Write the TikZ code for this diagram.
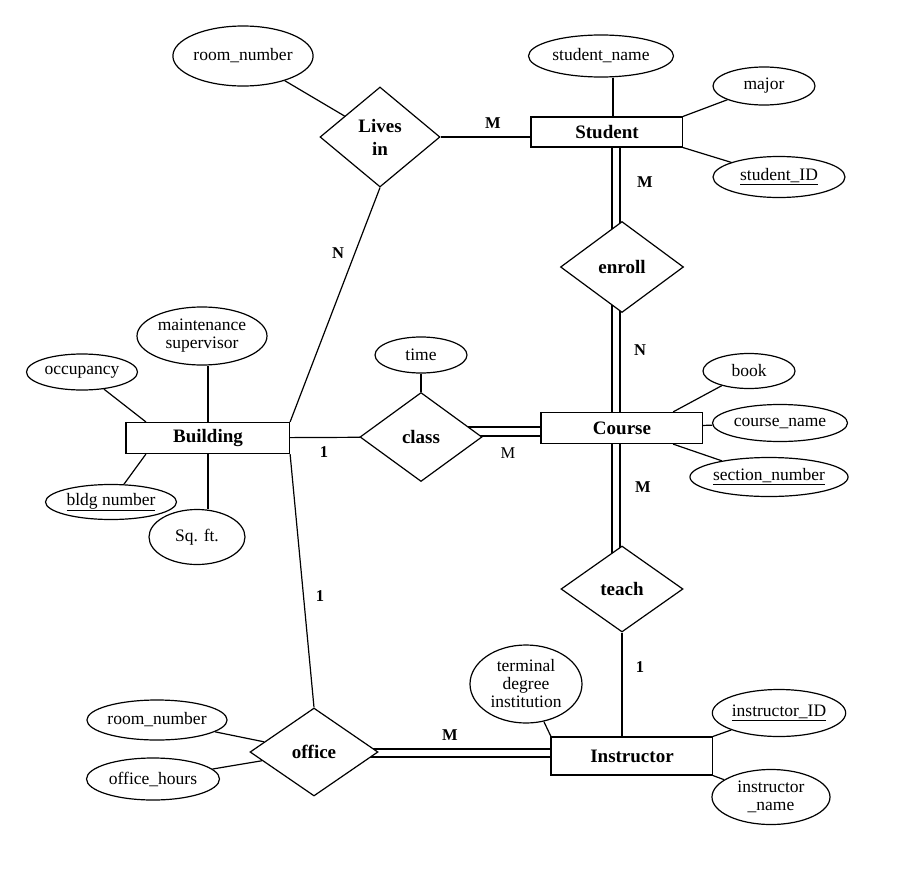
\documentclass[tikz,border=0pt]{standalone}
\usepackage{fontspec}
\setmainfont{Liberation Serif}
\usetikzlibrary{shapes.geometric}
\pgfdeclarelayer{bg}
\pgfsetlayers{bg,main}
\begin{document}
\begin{tikzpicture}[x=1pt,y=-1pt,
  attr/.style={ellipse, draw, fill=white, line width=1.2pt, inner sep=0pt, font=\fontsize{17.5}{18}\selectfont, align=center},
  ent/.style={rectangle, draw, fill=white, line width=1.2pt, inner sep=0pt, font=\bfseries\fontsize{19}{20}\selectfont},
  rel/.style={diamond, draw, fill=white, line width=1.2pt, inner sep=0pt, font=\bfseries\fontsize{19}{23}\selectfont, align=center},
  card/.style={font=\bfseries\fontsize{16.5}{18}\selectfont, inner sep=0pt},
  cardr/.style={font=\fontsize{16.5}{18}\selectfont, inner sep=0pt},
  conn/.style={line width=1.2pt},
  leftedge/.style={line width=2pt}]
\useasboundingbox (0,0) rectangle (918,878);

% entities
\node[ent, minimum width=151pt, minimum height=30pt] (student) at (607,132) {Student};
\node[ent, minimum width=161pt, minimum height=31pt] (course) at (622,428) {Course};
\node[ent, minimum width=163pt, minimum height=31pt] (building) at (208,438) {Building};
\node[ent, minimum width=161pt, minimum height=38pt] (instructor) at (632,756) {Instructor};
\foreach \e in {student,course,building,instructor}
  \draw[leftedge] (\e.north west) -- (\e.south west);

% relationships
\node[rel, minimum width=120pt, minimum height=100pt] (livesin) at (380,137) {Lives\\in};
\node[rel, minimum width=123pt, minimum height=91pt] (enroll) at (622,267) {enroll};
\node[rel, minimum width=122pt, minimum height=89pt] (class) at (421,437) {class};
\node[rel, minimum width=122pt, minimum height=86pt] (teach) at (622,589) {teach};
\node[rel, minimum width=128pt, minimum height=88pt] (office) at (314,752) {office};

% attributes
\node[attr, minimum width=133pt, minimum height=60pt] (rn1) at (243,56) {room\_number};
\node[attr, minimum width=145pt, minimum height=42pt] (sname) at (601,56) {student\_name};
\node[attr, minimum width=102pt, minimum height=38pt] (major) at (764,86) {major};
\node[attr, minimum width=132pt, minimum height=41pt] (sid) at (779,177) {\underline{student\_ID}};
\node[attr, minimum width=92pt, minimum height=36pt] (time) at (421,355) {time};
\node[attr, minimum width=92pt, minimum height=35pt] (book) at (749,371) {book};
\node[attr, minimum width=135pt, minimum height=37pt] (cname) at (780,423) {course\_name};
\node[attr, minimum width=153pt, minimum height=39pt] (snum) at (769,477) {\underline{section\_number}};
\node[attr, minimum width=130pt, minimum height=58pt] (maint) at (202,336) {maintenance\\supervisor};
\node[attr, minimum width=111pt, minimum height=36pt] (occ) at (82,372) {occupancy};
\node[attr, minimum width=131pt, minimum height=35pt] (bldg) at (111,502) {\underline{bldg number}};
\node[attr, minimum width=96pt, minimum height=55pt] (sqft) at (197,537) {Sq. ft.};
\node[attr, minimum width=112pt, minimum height=78pt] (tdi) at (526,684) {terminal\\degree\\institution};
\node[attr, minimum width=132pt, minimum height=47pt] (iid) at (779,713) {\underline{instructor\_ID}};
\node[attr, minimum width=118pt, minimum height=55pt] (iname) at (771,797) {instructor\\\_name};
\node[attr, minimum width=140pt, minimum height=40pt] (rn2) at (157,720) {room\_number};
\node[attr, minimum width=133pt, minimum height=42pt] (oh) at (153,779) {office\_hours};

% helper coordinates
\coordinate (snx) at (613,0);
\coordinate (dla) at (612,0);
\coordinate (dlb) at (620,0);
\coordinate (cya) at (0,427);
\coordinate (cyb) at (0,436);
\coordinate (oya) at (0,749);
\coordinate (oyb) at (0,757);

% connectors
\begin{pgfonlayer}{bg}
\fill[white] (0,0) rectangle (918,878);
\draw[conn] (rn1) -- (livesin);
\draw[conn] (livesin) -- (livesin -| student);
\draw[conn] (sname.south -| snx) -- (student -| snx);
\draw[conn] (major) -- (student.north east);
\draw[conn] (sid) -- (student.south east);
\foreach \d in {dla,dlb} {
  \draw[conn] (student -| \d) -- (enroll -| \d);
  \draw[conn] (enroll -| \d) -- (course -| \d);
  \draw[conn] (course -| \d) -- (teach -| \d);
}
\draw[conn] (teach) -- (teach |- instructor);
\draw[conn] (book) -- ([xshift=-30pt]course.north east);
\draw[conn] (cname) -- (course);
\draw[conn] (snum) -- ([xshift=-30pt]course.south east);
\draw[conn] (time) -- (class);
\foreach \c in {cya,cyb}
  \draw[conn] (class |- \c) -- (course |- \c);
\draw[conn] (building) -- (class);
\draw[conn] (building.north east) -- (livesin.south);
\draw[conn] (building.south east) -- (office.north);
\draw[conn] (maint.south -| building) -- (building);
\draw[conn] (sqft.north -| building) -- (building);
\draw[conn] (occ) -- ([xshift=20pt]building.north west);
\draw[conn] (bldg) -- ([xshift=20pt]building.south west);
\draw[conn] (rn2) -- (office);
\draw[conn] (oh) -- (office);
\foreach \o in {oya,oyb}
  \draw[conn] (office |- \o) -- (instructor |- \o);
\draw[conn] (tdi) -- (instructor.north west);
\draw[conn] (iid) -- (instructor.north east);
\draw[conn] (iname) -- (instructor.south east);
\end{pgfonlayer}

% cardinalities
\node[card] (c1) at (493,123) {M};
\node[card] (c2) at (645,182) {M};
\node[card] (c3) at (338,253) {N};
\node[card] (c4) at (640,350) {N};
\node[card] (c5) at (324,452) {1};
\node[cardr] (c6) at (508,453) {M};
\node[card] (c7) at (643,487) {M};
\node[card] (c8) at (320,596) {1};
\node[card] (c9) at (640,667) {1};
\node[card] (c10) at (450,735) {M};
\end{tikzpicture}
\end{document}
